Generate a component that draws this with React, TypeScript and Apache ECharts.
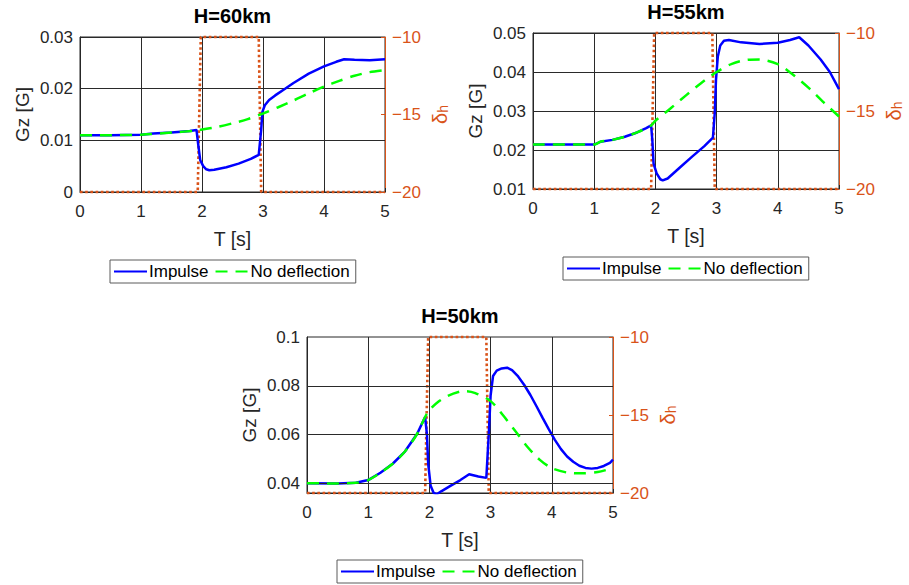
import React, { useEffect, useRef } from 'react';
import * as echarts from 'echarts';

type Pt = [number, number];

// Time axis ticks (s)
const timeTicks = [0, 1, 2, 3, 4, 5];

// Heading deflection command δh (right axis), shared by all three altitudes
const deflection: Pt[] = [
  [0, -20], [1.93, -20], [1.98, -10], [2.93, -10], [2.97, -20], [5, -20],
];

// H = 60 km
const h60Impulse: Pt[] = [
  [0, 0.011], [0.5, 0.011], [1.0, 0.0111], [1.2, 0.0113], [1.5, 0.0115], [1.8, 0.0118],
  [1.91, 0.012], [1.94, 0.009], [1.97, 0.0062], [2.02, 0.005], [2.07, 0.0044], [2.12, 0.0042],
  [2.2, 0.0043], [2.4, 0.0048], [2.6, 0.0055], [2.8, 0.0064], [2.93, 0.0072],
  [2.97, 0.012], [2.99, 0.0155], [3.03, 0.0168], [3.1, 0.0178], [3.2, 0.0187], [3.35, 0.0199],
  [3.5, 0.0211], [3.75, 0.0229], [4.0, 0.0243], [4.2, 0.0252], [4.33, 0.0257], [4.5, 0.0256],
  [4.75, 0.0255], [5.0, 0.0257],
];
const h60NoDeflection: Pt[] = [
  [0, 0.011], [0.5, 0.011], [1.0, 0.0111], [1.5, 0.0115], [1.9, 0.0119], [2.0, 0.0121],
  [2.25, 0.0126], [2.5, 0.0133], [2.75, 0.0141], [3.0, 0.0152], [3.25, 0.0164], [3.5, 0.0177],
  [3.75, 0.0191], [4.0, 0.0204], [4.25, 0.0215], [4.5, 0.0225], [4.75, 0.0232], [5.0, 0.0236],
];

// H = 55 km
const h55Impulse: Pt[] = [
  [0, 0.0214], [0.5, 0.0214], [1.0, 0.0214], [1.1, 0.0221], [1.3, 0.0226], [1.5, 0.0234],
  [1.7, 0.0245], [1.85, 0.0256], [1.93, 0.0263], [1.95, 0.0225], [1.97, 0.0165], [2.02, 0.014],
  [2.08, 0.0125], [2.12, 0.0122], [2.2, 0.0127], [2.4, 0.0155], [2.6, 0.0183], [2.8, 0.021],
  [2.94, 0.0232], [2.97, 0.0295], [2.99, 0.038], [3.02, 0.044], [3.06, 0.0468], [3.12, 0.048],
  [3.2, 0.0482], [3.4, 0.0476], [3.7, 0.0472], [4.0, 0.0475], [4.2, 0.0482], [4.35, 0.0489],
  [4.5, 0.0468], [4.7, 0.0432], [4.85, 0.04], [5.0, 0.0356],
];
const h55NoDeflection: Pt[] = [
  [0, 0.0214], [1.0, 0.0214], [1.1, 0.0221], [1.3, 0.0226], [1.5, 0.0234], [1.7, 0.0245],
  [1.93, 0.0263], [2.0, 0.0275], [2.25, 0.0307], [2.5, 0.034], [2.75, 0.0372], [3.0, 0.04],
  [3.25, 0.0421], [3.5, 0.0431], [3.7, 0.0432], [4.0, 0.042], [4.25, 0.0393], [4.5, 0.036],
  [4.75, 0.0322], [5.0, 0.0286],
];

// H = 50 km
const h50Impulse: Pt[] = [
  [0, 0.04], [0.5, 0.0399], [0.8, 0.0402], [1.0, 0.0413], [1.2, 0.0443], [1.4, 0.048],
  [1.6, 0.053], [1.8, 0.0603], [1.93, 0.0672], [1.96, 0.06], [1.98, 0.048], [2.02, 0.039],
  [2.07, 0.036], [2.12, 0.0355], [2.2, 0.0368], [2.35, 0.039], [2.5, 0.0412], [2.65, 0.0437],
  [2.8, 0.0428], [2.93, 0.0422], [2.97, 0.06], [3.0, 0.076], [3.04, 0.084], [3.1, 0.0862],
  [3.18, 0.0871], [3.27, 0.0874], [3.35, 0.0864], [3.45, 0.0838], [3.55, 0.0803],
  [3.65, 0.0762], [3.75, 0.0716], [3.85, 0.0668], [3.95, 0.0622], [4.05, 0.0578],
  [4.15, 0.0540], [4.25, 0.0510], [4.35, 0.0488], [4.45, 0.0472], [4.55, 0.0463],
  [4.65, 0.0460], [4.75, 0.0463], [4.85, 0.0471], [4.95, 0.0484], [5.0, 0.0497],
];
const h50NoDeflection: Pt[] = [
  [0, 0.04], [0.5, 0.0399], [0.8, 0.0402], [1.0, 0.0413], [1.2, 0.0443], [1.4, 0.048],
  [1.6, 0.053], [1.8, 0.0603], [1.93, 0.0672], [2.0, 0.07], [2.15, 0.0735], [2.3, 0.0758],
  [2.5, 0.0776], [2.6, 0.0778], [2.75, 0.077], [3.0, 0.0737], [3.2, 0.068], [3.4, 0.0615],
  [3.6, 0.055], [3.8, 0.0497], [4.0, 0.0462], [4.25, 0.0444], [4.5, 0.0441], [4.75, 0.0446],
  [5.0, 0.0462],
];

const titles = ['H=60km', 'H=55km', 'H=50km'];
const gzLabels50 = [0.04, 0.06, 0.08, 0.1];

const FONT = '"Liberation Sans", Arial, Helvetica, sans-serif';
const INK = '#262626';
const ORANGE = '#D95319';
const GRIDLINE = '#2a2a2a';

// Plot-area placement of each panel (pixels)
const layout = [
  { left: 80, top: 37, width: 305, height: 155, legendLeft: 110, legendTop: 260 },
  { left: 533, top: 33, width: 306, height: 156, legendLeft: 563, legendTop: 257 },
  { left: 307, top: 337, width: 306, height: 156, legendLeft: 337, legendTop: 560 },
];

const leftAxes = [
  { min: 0, max: 0.03, interval: 0.01 },
  { min: 0.01, max: 0.05, interval: 0.01 },
  { min: 0.036, max: 0.1, interval: 0.004 },
];

const minus = (v: number) => String(v).replace('-', '\u2212');

export default function App() {
  const ref = useRef<HTMLDivElement>(null);

  useEffect(() => {
    if (!ref.current) return;
    const chart = echarts.init(ref.current, undefined, { renderer: 'svg' });

    const impulse = [h60Impulse, h55Impulse, h50Impulse];
    const noDefl = [h60NoDeflection, h55NoDeflection, h50NoDeflection];

    const grid = layout.map((l) => ({
      left: l.left, top: l.top, width: l.width, height: l.height,
      outerBoundsMode: 'none',
      containLabel: false,
      show: true, borderColor: INK, borderWidth: 1, backgroundColor: '#fff',
    }));

    const title = layout.map((l, i) => ({
      text: titles[i],
      left: l.left + l.width / 2,
      top: l.top - 31,
      textAlign: 'center',
      padding: 0,
      textStyle: { fontFamily: FONT, fontSize: 20, fontWeight: 'bold', color: '#000' },
    }));

    const xAxis = layout.map((_, i) => ({
      type: 'value',
      gridIndex: i,
      min: timeTicks[0],
      max: timeTicks[timeTicks.length - 1],
      interval: 1,
      name: 'T [s]',
      nameLocation: 'middle',
      nameGap: 37,
      nameTextStyle: { fontFamily: FONT, fontSize: 19.5, color: INK },
      axisLine: { show: true, onZero: false, lineStyle: { color: INK, width: 1 } },
      axisTick: { show: true, inside: true, length: 4, lineStyle: { color: INK } },
      axisLabel: { fontFamily: FONT, fontSize: 17, color: INK, margin: 11 },
      splitLine: { show: true, lineStyle: { color: GRIDLINE, width: 1 } },
    }));

    const yAxis: any[] = [];
    layout.forEach((_, i) => {
      const a = leftAxes[i];
      const fine = i === 2;
      yAxis.push({
        type: 'value',
        gridIndex: i,
        position: 'left',
        min: a.min,
        max: a.max,
        interval: a.interval,
        name: 'Gz [G]',
        nameLocation: 'middle',
        nameGap: 48,
        nameRotate: 90,
        nameTextStyle: { fontFamily: FONT, fontSize: 19, color: INK },
        axisLine: { show: true, onZero: false, lineStyle: { color: INK, width: 1 } },
        axisTick: { show: !fine, inside: true, length: 4, lineStyle: { color: INK } },
        axisLabel: {
          fontFamily: FONT, fontSize: 17, color: INK, margin: 7,
          formatter: (v: number) => {
            if (!fine) return String(Math.round(v * 1000) / 1000);
            const k = Math.round(v * 1000);
            return gzLabels50.some((g) => Math.abs(g * 1000 - k) < 1e-6) ? String(k / 1000) : '';
          },
        },
        splitLine: { show: !fine, lineStyle: { color: GRIDLINE, width: 1 } },
      });
      yAxis.push({
        type: 'value',
        gridIndex: i,
        position: 'right',
        min: -20,
        max: -10,
        interval: 5,
        name: '{d|δ}{s|h}',
        nameLocation: 'middle',
        nameGap: 42,
        nameRotate: 90,
        nameTextStyle: {
          fontFamily: FONT,
          color: ORANGE,
          rich: {
            d: { fontFamily: FONT, fontSize: 20, color: ORANGE, lineHeight: 20, verticalAlign: 'top' },
            s: {
              fontFamily: FONT, fontSize: 14, color: ORANGE, lineHeight: 14,
              verticalAlign: 'bottom', padding: [11, 0, 0, 0],
            },
          },
        },
        axisLine: { show: true, onZero: false, lineStyle: { color: ORANGE, width: 1 } },
        axisTick: { show: true, inside: true, length: 4, lineStyle: { color: ORANGE } },
        axisLabel: { fontFamily: FONT, fontSize: 17, color: ORANGE, margin: 7, formatter: minus },
        splitLine: { show: false },
      });
    });

    const series: any[] = [];
    layout.forEach((_, i) => {
      if (i === 2) {
        // horizontal grid lines at the labelled Gz values
        series.push({
          type: 'line',
          xAxisIndex: i,
          yAxisIndex: 2 * i,
          data: [[0, gzLabels50[0]], [5, gzLabels50[0]]],
          symbol: 'none',
          silent: true,
          z: 1,
          lineStyle: { opacity: 0 },
          markLine: {
            silent: true,
            symbol: ['none', 'none'],
            label: { show: false },
            lineStyle: { color: GRIDLINE, width: 1, type: 'solid' },
            data: gzLabels50.slice(0, 3).map((g) => ({ yAxis: g })),
          },
        });
      }
      series.push({
        type: 'line',
        name: 'δh',
        xAxisIndex: i,
        yAxisIndex: 2 * i + 1,
        data: deflection,
        symbol: 'none',
        clip: false,
        silent: true,
        z: 3,
        lineStyle: { color: ORANGE, width: 2.6, type: [2.6, 2.6] },
      });
      series.push({
        type: 'line',
        name: 'Impulse',
        xAxisIndex: i,
        yAxisIndex: 2 * i,
        data: impulse[i],
        symbol: 'none',
        z: 4,
        color: '#0000FF',
        lineStyle: { color: '#0000FF', width: 2.5 },
      });
      series.push({
        type: 'line',
        name: 'No deflection',
        xAxisIndex: i,
        yAxisIndex: 2 * i,
        data: noDefl[i],
        symbol: 'none',
        smooth: 0.3,
        z: 5,
        color: '#00FF00',
        lineStyle: { color: '#00FF00', width: 2.5, type: [12, 8] },
      });
    });

    const legend = layout.map((l) => ({
      data: ['Impulse', 'No deflection'],
      left: l.legendLeft,
      top: l.legendTop,
      orient: 'horizontal',
      itemWidth: 33,
      itemHeight: 14,
      itemGap: 6,
      padding: [3, 6, 3, 3],
      backgroundColor: '#fff',
      borderColor: '#5a5a5a',
      borderWidth: 1,
      selectedMode: false,
      itemStyle: { opacity: 0 },
      textStyle: { fontFamily: FONT, fontSize: 17, color: '#000', padding: [0, 0, 0, -3] },
    }));

    chart.setOption({
      animation: false,
      backgroundColor: '#fff',
      textStyle: { fontFamily: FONT },
      title,
      grid,
      xAxis,
      yAxis,
      legend,
      series,
    });

    return () => chart.dispose();
  }, []);

  return (
    <div
      ref={ref}
      style={{ position: 'absolute', left: 0, top: 0, width: 909, height: 585, background: '#fff' }}
    />
  );
}
